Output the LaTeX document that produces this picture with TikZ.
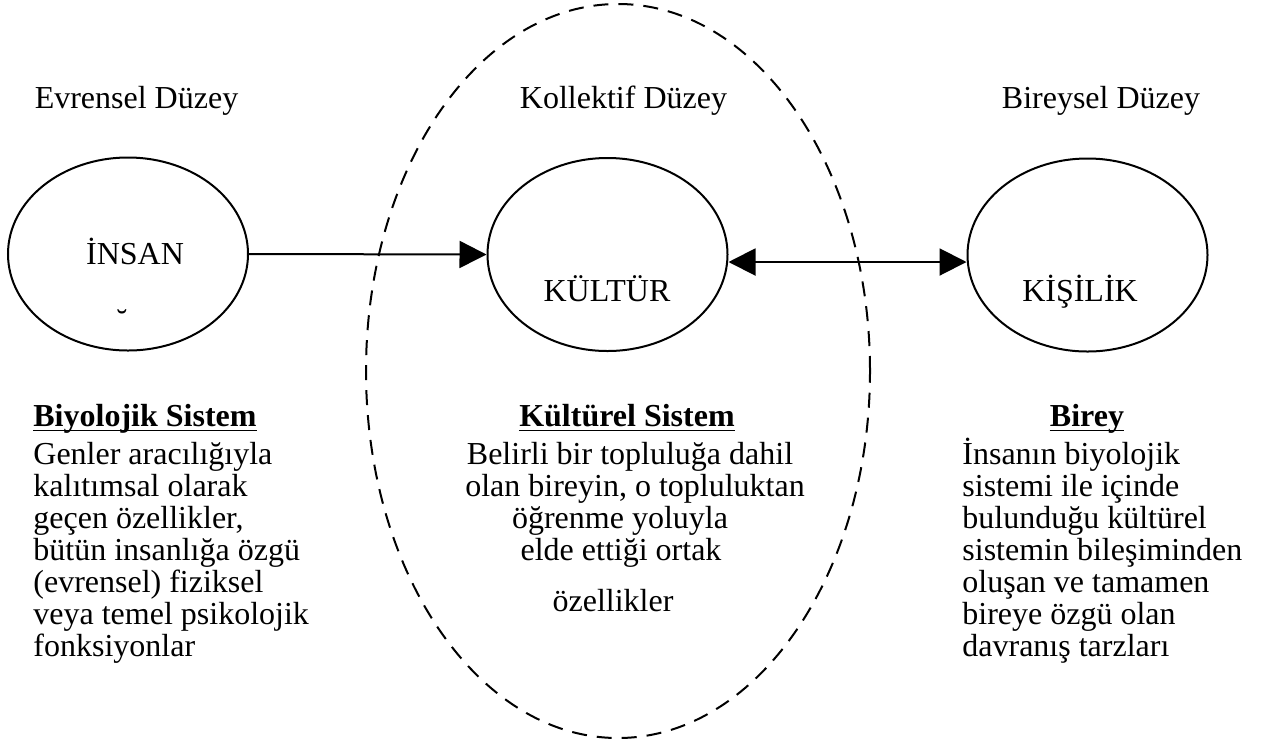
\documentclass[tikz,border=0pt]{standalone}
\usepackage{fontspec}
\setmainfont{Liberation Serif}
\usetikzlibrary{shapes.geometric,arrows.meta}

\tikzset{
  txt/.style={font=\fontsize{16}{16}\selectfont, inner sep=0pt},
  hdr/.style={font=\fontsize{16}{16}\selectfont\bfseries, inner sep=0pt},
  rule/.style={line width=0.9pt},
  oval/.style={draw, line width=1pt, ellipse, minimum width=120pt,
    minimum height=96.5pt, inner sep=0pt},
  zone/.style={draw, dash pattern=on 7.5pt off 5pt, line width=1pt, ellipse,
    minimum width=252pt, minimum height=367pt, inner sep=0pt},
  tip/.tip={Triangle[length=13.5pt,width=13.5pt]},
  link/.style={line width=1pt, -tip},
  bilink/.style={line width=1pt, tip-tip},
}

\begin{document}
\begin{tikzpicture}[x=0.5pt,y=-0.5pt]
  \path[fill=white] (0,0) rectangle (1262,745);
  \useasboundingbox (0,0) rectangle (1262,745);

  % collective level zone
  \node[zone] (kollektif) at (618,371) {};

  % the three systems
  \node[oval] (insan) at (128,254) {};
  \node[oval] (kultur) at (607.5,254.5) {};
  \node[oval] (kisilik) at (1087.5,255) {};

  \draw[link] (insan.east) -- (kultur.west);
  \draw[bilink] ([yshift=-3.75pt]kultur.east) -- ([yshift=-3.5pt]kisilik.west);

  % level titles
  \node[txt, anchor=base] (evrensel) at (136.5,108) {Evrensel Düzey};
  \node[txt, anchor=base] (kolttl) at (623.5,108) {Kollektif Düzey};
  \node[txt, anchor=base] (bireysel) at (1101,108) {Bireysel Düzey};

  % labels inside the ovals
  \node[txt, anchor=base] (lbinsan) at (135,264) {İNSAN};
  \node[txt, anchor=base] (breve) at (122,331) {˘};
  \node[txt, anchor=base] (lbkultur) at (607,301) {KÜLTÜR};
  \node[txt, anchor=base] (lbkisilik) at (1080,301) {KİŞİLİK};

  % underlined headings
  \node[hdr, anchor=base west] (h1) at (33,426) {Biyolojik Sistem};
  \node[hdr, anchor=base] (h2) at (627,426) {Kültürel Sistem};
  \node[hdr, anchor=base] (h3) at (1087,426) {Birey};
  \foreach \h in {h1,h2,h3}
    \draw[rule] ([yshift=-2.2pt]\h.base west) -- ([yshift=-2.2pt]\h.base east);

  % descriptions
  \foreach \t [count=\i] in {Genler aracılığıyla, kalıtımsal olarak,
      {geçen özellikler,}, bütün insanlığa özgü, (evrensel) fiziksel,
      veya temel psikolojik, fonksiyonlar}
    \node[txt, anchor=base west] (l\i) at (33,{464+32*(\i-1)}) {\t};

  \foreach \cx/\cy/\t [count=\i] in {630/464/Belirli bir topluluğa dahil,
      635/496/{olan bireyin, o topluluktan}, 620/528/öğrenme yoluyla,
      621/560/elde ettiği ortak, 613/611/özellikler}
    \node[txt, anchor=base] (c\i) at (\cx,\cy) {\t};

  \foreach \t [count=\i] in {İnsanın biyolojik, sistemi ile içinde,
      bulunduğu kültürel, sistemin bileşiminden, oluşan ve tamamen,
      bireye özgü olan, davranış tarzları}
    \node[txt, anchor=base west] (r\i) at (962,{464+32*(\i-1)}) {\t};
\end{tikzpicture}
\end{document}
